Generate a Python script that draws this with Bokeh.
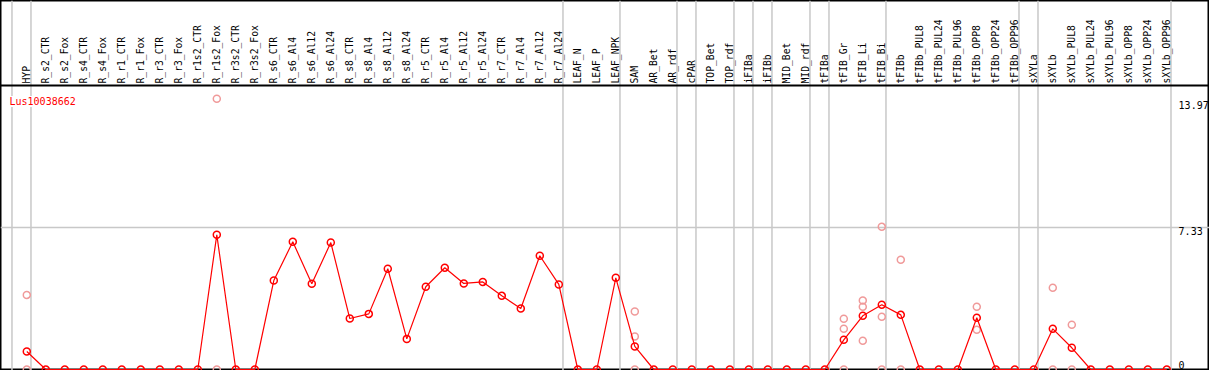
import math
from bokeh.plotting import figure
from bokeh.models import Range1d, Span, Label, ColumnDataSource
from bokeh.embed import file_html
from bokeh.resources import INLINE
from bokeh.core.properties import value

gene = "Lus10038662"

samples = [
    "HYP",
    "R_s2_CTR", "R_s2_Fox", "R_s4_CTR", "R_s4_Fox", "R_r1_CTR", "R_r1_Fox",
    "R_r3_CTR", "R_r3_Fox", "R_r1s2_CTR", "R_r1s2_Fox", "R_r3s2_CTR", "R_r3s2_Fox",
    "R_s6_CTR", "R_s6_Al4", "R_s6_Al12", "R_s6_Al24",
    "R_s8_CTR", "R_s8_Al4", "R_s8_Al12", "R_s8_Al24",
    "R_r5_CTR", "R_r5_Al4", "R_r5_Al12", "R_r5_Al24",
    "R_r7_CTR", "R_r7_Al4", "R_r7_Al12", "R_r7_Al24",
    "LEAF_N", "LEAF_P", "LEAF_NPK",
    "SAM", "AR_Bet", "AR_rdf",
    "cPAR",
    "TOP_Bet", "TOP_rdf",
    "iFIBa",
    "iFIBb",
    "MID_Bet", "MID_rdf",
    "tFIBa",
    "tFIB_Gr", "tFIB_Li", "tFIB_Bi",
    "tFIBb", "tFIBb_PUL8", "tFIBb_PUL24", "tFIBb_PUL96", "tFIBb_OPP8", "tFIBb_OPP24", "tFIBb_OPP96",
    "sXYLa",
    "sXYLb", "sXYLb_PUL8", "sXYLb_PUL24", "sXYLb_PUL96", "sXYLb_OPP8", "sXYLb_OPP24", "sXYLb_OPP96",
]

means = [
    0.93,
    0, 0, 0, 0, 0, 0, 0, 0, 0, 6.95, 0, 0,
    4.59, 6.59, 4.42, 6.55,
    2.63, 2.87, 5.20, 1.58,
    4.27, 5.25, 4.44, 4.52,
    3.80, 3.15, 5.87, 4.39,
    0, 0, 4.73,
    1.19, 0, 0,
    0,
    0, 0,
    0,
    0,
    0, 0,
    0,
    1.53, 2.77, 3.34,
    2.82, 0, 0, 0, 2.67, 0, 0,
    0,
    2.10, 1.12, 0, 0, 0, 0, 0,
]

rep_samples = [
    "HYP", "HYP",
    "R_r1s2_Fox", "R_r1s2_Fox",
    "SAM", "SAM", "SAM",
    "tFIB_Gr", "tFIB_Gr", "tFIB_Gr",
    "tFIB_Li", "tFIB_Li", "tFIB_Li",
    "tFIB_Bi", "tFIB_Bi", "tFIB_Bi",
    "tFIBb", "tFIBb",
    "tFIBb_OPP8", "tFIBb_OPP8",
    "sXYLb", "sXYLb",
    "sXYLb_PUL8", "sXYLb_PUL8",
]
rep_values = [
    3.85, 0,
    13.97, 0,
    2.99, 1.70, 0,
    2.62, 2.10, 0,
    3.56, 3.24, 1.48,
    7.36, 2.72, 0,
    5.66, 0,
    3.24, 2.05,
    4.22, 0,
    2.31, 0,
]

group_sizes = [1, 28, 3, 3, 1, 2, 1, 1, 2, 1, 3, 7, 1, 7]
y_tick_values = [0, 7.33, 13.97]
y_tick_labels = ["0", "7.33", "13.97"]

# ---- layout constants ----
W, H = 1209, 370
n = len(samples)
xs = list(range(n))
X0, X1 = -1.384, 62.247
Y0, Y1 = -0.0516, 19.04
PPU = H / (Y1 - Y0)          # pixels per value unit
HEADER_Y = 14.654
FONT = value("DejaVu Sans Mono")
RED = "#ff0000"
PINK = "#f09a9a"
GRID = "#c8c8c8"

p = figure(width=W, height=H, x_range=Range1d(X0, X1), y_range=Range1d(Y0, Y1),
           output_backend="svg", toolbar_location=None, min_border=0,
           outline_line_color="black", outline_line_width=2,
           background_fill_color="white", border_fill_color="white")
p.axis.visible = False
p.grid.visible = False

# vertical group separators
b = -1
p.add_layout(Span(location=b + 0.22, dimension="height", line_color=GRID, line_width=1.5, level="underlay"))
for g in group_sizes:
    b += g
    p.add_layout(Span(location=b + 0.22, dimension="height", line_color=GRID, line_width=1.5, level="underlay"))

# horizontal gridline at middle tick
p.add_layout(Span(location=y_tick_values[1], dimension="width", line_color=GRID, line_width=1.5, level="underlay"))
# header divider
p.add_layout(Span(location=HEADER_Y, dimension="width", line_color="black", line_width=2))

# header labels
p.text(x=xs, y=HEADER_Y + 2.0 / PPU, text=samples, angle=math.pi / 2,
       text_align="left", text_baseline="middle", text_font=FONT,
       text_font_size="9.7px", text_color="black")

# y tick labels
label_shift_px = [0, 0, 2.5]
tick_src = ColumnDataSource(dict(
    x=[n - 1 + 0.62] * len(y_tick_values),
    y=[v - s / PPU for v, s in zip(y_tick_values, label_shift_px)],
    t=y_tick_labels,
    base=["bottom", "top", "top"]))
p.text(x="x", y="y", text="t", source=tick_src, text_align="left",
       text_baseline="base", text_font=FONT, text_font_size="10px",
       text_color="black")

# replicates
rep_x = [samples.index(s) for s in rep_samples]
p.scatter(rep_x, rep_values, marker="circle", size=7, fill_color=None,
          line_color=PINK, line_width=1.5)

# mean line and markers
p.line(xs, means, line_color=RED, line_width=1.2)
p.scatter(xs, means, marker="circle", size=7, fill_color=None,
          line_color=RED, line_width=1.5)

p.add_layout(Label(x=-0.91, y=13.83, text=gene, text_color=RED, text_font="DejaVu Sans Mono",
                   text_font_size="10px", text_baseline="alphabetic",
                   background_fill_color="white"))

open("out.html", "w").write(file_html(p, INLINE))
